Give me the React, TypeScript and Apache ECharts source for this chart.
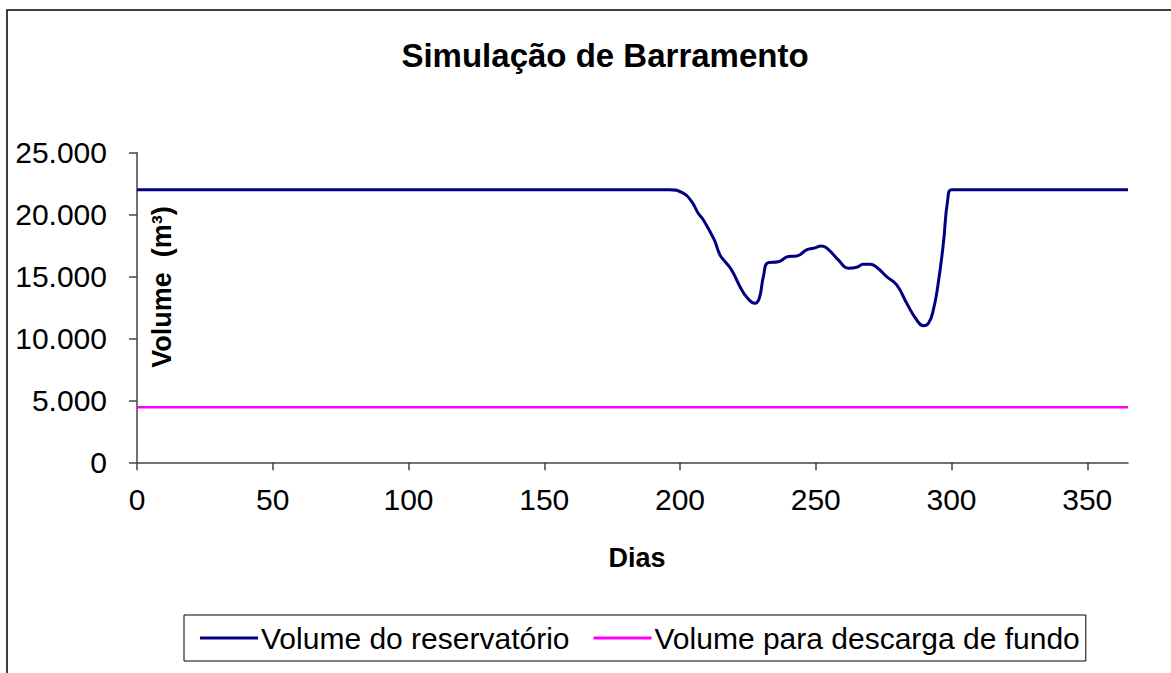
import React, { useEffect, useRef } from "react";
import * as echarts from "echarts";

const reservoirDays = [0, 196, 201.2, 204.3, 206.7, 208.6, 211.7, 212.9, 214.7, 216.6, 219, 222.1, 224.6, 227.6, 229.2, 230.7, 232.5, 236.2, 239.9, 243, 246.6, 249.1, 252.2, 254.6, 258.3, 262, 265.1, 267.5, 270, 272.4, 276.1, 279.8, 283.5, 287.2, 289.6, 291.5, 293.3, 295.1, 297, 298.6, 300, 365];
const reservoirVolumes = [22000, 22000, 21730, 21050, 20110, 19570, 18360, 17820, 16750, 16200, 15530, 14180, 13330, 12840, 13250, 14990, 16120, 16200, 16610, 16660, 17150, 17280, 17470, 17200, 16340, 15670, 15750, 15990, 15990, 15750, 14990, 14320, 12840, 11490, 11030, 11230, 12300, 14460, 17690, 21190, 22000, 22000];
const dischargeDays = [0, 365];
const dischargeVolumes = [4450, 4450];
const seriesNames = ["Volume do reservatório", "Volume para descarga de fundo"];

export default function App() {
  const ref = useRef<HTMLDivElement>(null);
  useEffect(() => {
    const chart = echarts.init(ref.current!, null, { renderer: "svg" });
    const font = "Arial, 'Liberation Sans', sans-serif";
    chart.setOption({
      animation: false,
      backgroundColor: "#fff",
      textStyle: { fontFamily: font },
      title: {
        text: "Simulação de Barramento",
        left: 600,
        top: 34,
        textAlign: "center",
        textStyle: { fontSize: 33, fontWeight: "bold", color: "#000", fontFamily: font },
      },
      grid: { left: 137, right: 43, top: 152.7, bottom: 210.7, containLabel: false },
      xAxis: {
        type: "value",
        min: 0,
        max: 365,
        interval: 50,
        axisLine: { lineStyle: { color: "#444", width: 1.5 } },
        axisTick: { show: true, inside: false, length: 8, lineStyle: { color: "#444", width: 1.5 } },
        axisLabel: { fontSize: 30, color: "#000", margin: 22, fontFamily: font, showMaxLabel: false },
        splitLine: { show: false },
      },
      yAxis: {
        type: "value",
        min: 0,
        max: 25000,
        interval: 5000,
        axisLine: { show: true, lineStyle: { color: "#444", width: 1.5 } },
        axisTick: { show: true, inside: false, length: 8, lineStyle: { color: "#444", width: 1.5 } },
        axisLabel: {
          fontSize: 30,
          color: "#000",
          margin: 30,
          fontFamily: font,
          formatter: (v: number) => (v === 0 ? "0" : v.toLocaleString("de-DE")),
        },
        splitLine: { show: false },
      },
      legend: {
        left: 184,
        top: 615,
        itemGap: 24,
        itemWidth: 58,
        itemHeight: 3,
        icon: "rect",
        borderColor: "#000",
        borderWidth: 1,
        padding: [8, 6, 8, 16],
        textStyle: { fontSize: 30, color: "#000", fontFamily: font, padding: [0, 0, 0, -2] },
        data: seriesNames,
      },
      series: [
        {
          name: seriesNames[0],
          type: "line",
          data: reservoirDays.map((d, i) => [d, reservoirVolumes[i]]),
          symbol: "none",
          smooth: 0.5,
          lineStyle: { color: "#000080", width: 3 },
          itemStyle: { color: "#000080" },
        },
        {
          name: seriesNames[1],
          type: "line",
          data: dischargeDays.map((d, i) => [d, dischargeVolumes[i]]),
          symbol: "none",
          lineStyle: { color: "#FF00FF", width: 2.5 },
          itemStyle: { color: "#FF00FF" },
        },
      ],
      graphic: [
        {
          type: "rect",
          shape: { x: 7, y: 10, width: 1200, height: 700 },
          style: { fill: "none", stroke: "#000", lineWidth: 1.5 },
          silent: true,
        },
        {
          type: "text",
          x: 162,
          y: 287,
          rotation: Math.PI / 2,
          style: {
            text: "Volume  (m³)",
            fontSize: 27,
            fontWeight: "bold",
            fill: "#000",
            fontFamily: font,
            align: "center",
            verticalAlign: "middle",
          },
        },
        {
          type: "text",
          x: 637,
          y: 558,
          style: {
            text: "Dias",
            fontSize: 27,
            fontWeight: "bold",
            fill: "#000",
            fontFamily: font,
            align: "center",
            verticalAlign: "middle",
          },
        },
      ],
    });
    return () => chart.dispose();
  }, []);
  return <div ref={ref} style={{ position: "fixed", left: 0, top: 0, width: 1171, height: 673 }} />;
}
